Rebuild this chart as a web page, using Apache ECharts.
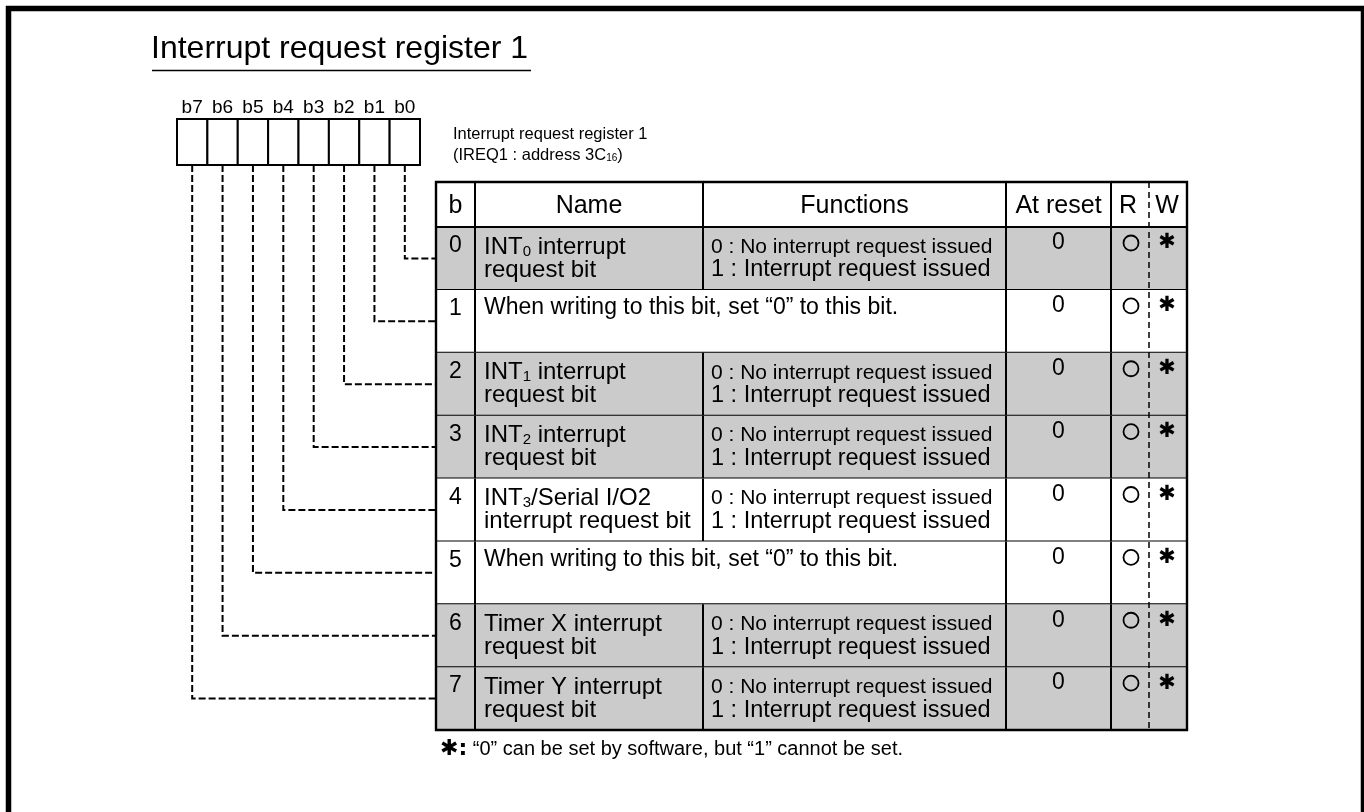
<!DOCTYPE html>
<html><head><meta charset="utf-8">
<script src="https://cdn.jsdelivr.net/npm/echarts@6/dist/echarts.min.js"></script>
<style>html,body{margin:0;padding:0;background:#fff}#c{width:1364px;height:812px}</style>
</head><body><div id="c"></div>
<script>
// ---------------- data ----------------
const titleText = 'Interrupt request register 1';
const registerLabel = ['Interrupt request register 1', '(IREQ1 : address 3C{s|16})'];
const bitLabels = ['b7', 'b6', 'b5', 'b4', 'b3', 'b2', 'b1', 'b0'];
const bitNumbers = ['0', '1', '2', '3', '4', '5', '6', '7'];
const headers = ['b', 'Name', 'Functions', 'At reset', 'R', 'W'];
const names = [
  ['INT{s|0} interrupt', 'request bit'],
  null,
  ['INT{s|1} interrupt', 'request bit'],
  ['INT{s|2} interrupt', 'request bit'],
  ['INT{s|3}/Serial I/O2', 'interrupt request bit'],
  null,
  ['Timer X interrupt', 'request bit'],
  ['Timer Y interrupt', 'request bit']
];
const functionsOff = ['0 : No interrupt request issued', null, '0 : No interrupt request issued', '0 : No interrupt request issued',
  '0 : No interrupt request issued', null, '0 : No interrupt request issued', '0 : No interrupt request issued'];
const functionsOn = ['1 : Interrupt request issued', null, '1 : Interrupt request issued', '1 : Interrupt request issued',
  '1 : Interrupt request issued', null, '1 : Interrupt request issued', '1 : Interrupt request issued'];
const fixedNotes = [null, 'When writing to this bit, set \u201c0\u201d to this bit.', null, null, null,
  'When writing to this bit, set \u201c0\u201d to this bit.', null, null];
const resetValues = ['0', '0', '0', '0', '0', '0', '0', '0'];
const readAccess = ['O', 'O', 'O', 'O', 'O', 'O', 'O', 'O'];
const writeAccess = ['\u2731', '\u2731', '\u2731', '\u2731', '\u2731', '\u2731', '\u2731', '\u2731'];
const shaded = [true, false, true, true, false, false, true, true];
const footnote = '{b|\u2731:} \u201c0\u201d can be set by software, but \u201c1\u201d cannot be set.';

// ---------------- layout / style ----------------
const FONT = '"Liberation Sans", Arial, Helvetica, sans-serif';
const SYM = '"DejaVu Sans", sans-serif';
const GREY = '#cbcbcb';
const TABLE = { left: 436, top: 227, width: 751, height: 503, headTop: 182, cols: [0, 39, 267, 570, 675, 713, 751] };
const REG = { left: 177, top: 119, width: 243, height: 46 };
const headCenters = [455.5, 589, 854.5, 1058.5, 1128, 1167];

function txt(text, x, y, size, align, family, extra, boldSize) {
  const s = {
    text: text, x: x, y: y, font: size + 'px ' + (family || FONT), fill: '#000',
    textAlign: align, align: align, textVerticalAlign: 'middle', verticalAlign: 'middle',
    rich: { s: { font: Math.round(size * 0.62) + 'px ' + FONT, fill: '#000', verticalAlign: 'bottom' },
            b: { font: 'bold ' + (boldSize || size) + 'px ' + SYM, fill: '#000' } }
  };
  return Object.assign({ type: 'text', style: s }, extra || {});
}
function ln(x1, y1, x2, y2, w, dash, z) {
  return { type: 'line', z: z || 0, shape: { x1: x1, y1: y1, x2: x2, y2: y2 },
    style: { stroke: '#000', lineWidth: w, lineDash: dash || null } };
}

function renderRow(params, api) {
  const i = params.dataIndex;
  const c = api.coord([0, i]);
  const h = api.size([0, 1])[1];
  const top = c[1] - h / 2, bot = c[1] + h / 2;
  const X = k => api.coord([TABLE.cols[k], i])[0];
  const x0 = X(0), x6 = X(6);
  const kids = [];
  kids.push({ type: 'rect', shape: { x: x0, y: top, width: x6 - x0, height: h }, style: { fill: shaded[i] ? GREY : '#fff' } });
  kids.push(ln(x0, bot, x6, bot, 2));
  [1, 3, 4].forEach(k => kids.push(ln(X(k), top, X(k), bot, 2)));
  if (!fixedNotes[i]) kids.push(ln(X(2), top, X(2), bot, 2));
  kids.push(txt(bitNumbers[i], (X(0) + X(1)) / 2, top + 19, 23, 'center'));
  if (fixedNotes[i]) {
    kids.push(txt(fixedNotes[i], X(1) + 9, top + 18, 23, 'left'));
  } else {
    kids.push(txt(names[i][0], X(1) + 9, top + 20, 24, 'left'));
    kids.push(txt(names[i][1], X(1) + 9, top + 43, 24, 'left'));
    kids.push(txt(functionsOff[i], X(2) + 8, top + 20, 21, 'left'));
    kids.push(txt(functionsOn[i], X(2) + 8, top + 43, 23.5, 'left'));
  }
  kids.push(txt(resetValues[i], (X(3) + X(4)) / 2, top + 16, 23, 'center'));
  if (readAccess[i]) kids.push({ type: 'circle', shape: { cx: X(4) + 20, cy: top + 16, r: 7.5 },
    style: { fill: 'none', stroke: '#000', lineWidth: 1.8 } });
  kids.push(txt(writeAccess[i], (X(5) + X(6)) / 2 - 1, top + 16, 21, 'center', SYM));
  // dashed connector from register bit cell to this row
  const vx = REG.left + (7 - i + 0.5) * REG.width / 8;
  kids.push({ type: 'polyline', shape: { points: [[vx, REG.top + REG.height], [vx, c[1]], [x0, c[1]]] },
    style: { fill: null, stroke: '#000', lineWidth: 2, lineDash: [7, 3] } });
  return { type: 'group', children: kids };
}

function renderCell(params, api) {
  const j = params.dataIndex;
  const w = api.size([1, 0])[0];
  const a = api.coord([j, 1]), b = api.coord([j, 0]);
  return { type: 'rect', shape: { x: a[0] - w / 2, y: a[1], width: w, height: b[1] - a[1] },
    style: { fill: '#fff', stroke: '#000', lineWidth: 2 } };
}

const T = TABLE, tl = T.left, tr = T.left + T.width, tb = T.top + T.height;
const graphics = [
  { type: 'rect', z: 20, shape: { x: 8.5, y: 8.5, width: 1355, height: 830 }, style: { fill: 'none', stroke: '#000', lineWidth: 5.5 } },
  txt(titleText, 151, 49, 32, 'left'),
  ln(152, 70.5, 531, 70.5, 1.5),
  txt(registerLabel[0], 453, 134, 16.5, 'left'),
  txt(registerLabel[1], 453, 155, 16.5, 'left'),
  { type: 'rect', shape: { x: tl, y: T.headTop, width: T.width, height: T.top - T.headTop }, style: { fill: '#fff' } },
  ln(tl, T.top, tr, T.top, 2, null, 10),
  txt(footnote, 440, 749, 20, 'left', null, null, 22)
];
[1, 2, 3, 4].forEach(k => graphics.push(ln(tl + T.cols[k], T.headTop, tl + T.cols[k], T.top, 2, null, 10)));
headers.forEach((h, k) => graphics.push(txt(h, headCenters[k], 206, 25, 'center', null, { z: 10 })));
graphics.push({ type: 'rect', z: 12, shape: { x: tl, y: T.headTop, width: T.width, height: tb - T.headTop },
  style: { fill: 'none', stroke: '#000', lineWidth: 2.4 } });
graphics.push(ln(tl + T.cols[5], T.headTop, tl + T.cols[5], tb, 1.5, [6, 4], 12));

const chart = echarts.init(document.getElementById('c'), null, { renderer: 'canvas' });
chart.setOption({
  animation: false,
  backgroundColor: '#fff',
  grid: [
    { left: T.left, top: T.top, width: T.width, height: T.height },
    { left: REG.left, top: REG.top, width: REG.width, height: REG.height }
  ],
  xAxis: [
    { gridIndex: 0, type: 'value', min: 0, max: T.width, show: false },
    { gridIndex: 1, type: 'category', data: bitLabels, position: 'top',
      axisLine: { show: false }, axisTick: { show: false }, splitLine: { show: false },
      axisLabel: { show: true, margin: 2, color: '#000', fontSize: 19, fontFamily: 'Liberation Sans' } }
  ],
  yAxis: [
    { gridIndex: 0, type: 'category', data: bitNumbers, inverse: true, show: false },
    { gridIndex: 1, type: 'value', min: 0, max: 1, show: false }
  ],
  series: [
    { type: 'custom', xAxisIndex: 0, yAxisIndex: 0, renderItem: renderRow, encode: { x: 0, y: 1 },
      data: bitNumbers.map((b, i) => [0, i]), silent: true },
    { type: 'custom', xAxisIndex: 1, yAxisIndex: 1, renderItem: renderCell, encode: { x: 0, y: 1 },
      data: bitLabels.map((b, j) => [j, 1]), silent: true, z: 3 }
  ],
  graphic: graphics
});
</script></body></html>
